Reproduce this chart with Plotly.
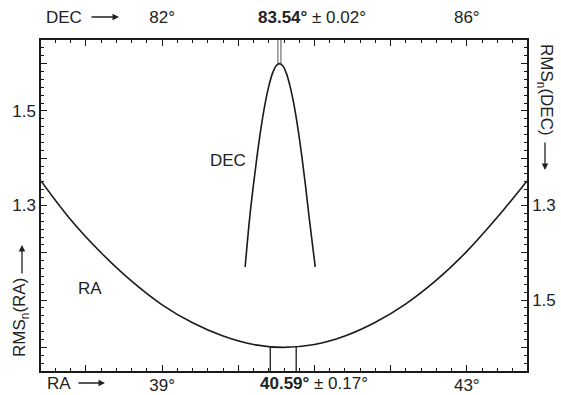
import numpy as np
import plotly.graph_objects as go

# ---- data ----
ra_deg = [37.41, 37.8, 38.2, 38.6, 39.0, 39.4, 39.8, 40.2, 40.59, 41.0, 41.4, 41.8, 42.2, 42.6, 43.0, 43.4, 43.79]
ra_rms = [1.352, 1.270, 1.200, 1.140, 1.090, 1.052, 1.024, 1.006, 1.000, 1.006, 1.024, 1.053, 1.092, 1.142, 1.203, 1.275, 1.352]

dec_deg = [83.09, 83.15, 83.20, 83.25, 83.30, 83.35, 83.40, 83.45, 83.50, 83.54,
           83.58, 83.63, 83.68, 83.73, 83.78, 83.83, 83.88, 83.93, 84.01]
dec_rms = [1.430, 1.325, 1.255, 1.191, 1.134, 1.086, 1.048, 1.020, 1.004, 1.000,
           1.004, 1.020, 1.048, 1.086, 1.134, 1.191, 1.255, 1.325, 1.430]

ra_best, ra_err = 40.59, 0.17
dec_best, dec_err = 83.54, 0.02

ra_range = [37.41, 43.79]
dec_range = [80.41, 86.79]
rms_range = [0.95, 1.65]

ra_ticks = [38, 39, 40, 41, 42, 43]
ra_ticklabels = ["", "39°", "", "", "", "43°"]
dec_ticks = [81, 82, 83, 84, 85, 86]
dec_ticklabels = ["", "82°", "", "", "", "86°"]
rms_ticks = [1.0, 1.1, 1.2, 1.3, 1.4, 1.5, 1.6]
rms_ticklabels = ["", "", "", "1.3", "", "1.5", ""]

FONT = "Liberation Sans, Arial, sans-serif"
FS = 17
BLACK = "#1a1a1a"
TXT = "#222222"
W, H = 561, 395
L, R, T, B = 41, 34, 40, 24
PW, PH = W - L - R, H - T - B


def px(xp):
    return (xp - L) / PW


def py(yp):
    return (H - B - yp) / PH


fig = go.Figure()

# RA curve
fig.add_trace(go.Scatter(x=ra_deg, y=ra_rms, mode="lines", line=dict(color=BLACK, width=1.6, shape="spline"),
                         xaxis="x", yaxis="y", showlegend=False, hoverinfo="skip"))
# DEC curve
fig.add_trace(go.Scatter(x=dec_deg, y=dec_rms, mode="lines", line=dict(color=BLACK, width=1.6, shape="spline"),
                         xaxis="x2", yaxis="y2", showlegend=False, hoverinfo="skip"))

# RA error bracket lines (from bottom up to the curve)
for xv in (ra_best - ra_err, ra_best + ra_err):
    yv = float(np.interp(xv, ra_deg, ra_rms))
    fig.add_trace(go.Scatter(x=[xv, xv], y=[rms_range[0], yv], mode="lines",
                             line=dict(color=BLACK, width=1.3), xaxis="x", yaxis="y",
                             showlegend=False, hoverinfo="skip"))
# DEC error bracket lines (from top down to the peak)
for xv in (dec_best - dec_err, dec_best + dec_err):
    yv = float(np.interp(xv, dec_deg, dec_rms))
    fig.add_trace(go.Scatter(x=[xv, xv], y=[rms_range[0], yv], mode="lines",
                             line=dict(color="#555555", width=1), xaxis="x2", yaxis="y2",
                             showlegend=False, hoverinfo="skip"))

axis_common = dict(showline=True, linecolor=BLACK, linewidth=1.5, ticks="inside",
                   tickcolor=BLACK, tickwidth=1.2, ticklen=6, showgrid=False, zeroline=False,
                   tickfont=dict(family=FONT, size=FS, color=TXT), tickmode="array",
                   automargin=False)


def minor(t0, dt):
    return dict(tickmode="linear", tick0=t0, dtick=dt, ticklen=3, ticks="inside",
                tickcolor=BLACK, tickwidth=1.2, showgrid=False)


fig.update_layout(
    width=W, height=H,
    margin=dict(l=L, r=R, t=T, b=B, autoexpand=False),
    paper_bgcolor="white", plot_bgcolor="white",
    xaxis=dict(range=ra_range, tickvals=ra_ticks, ticktext=ra_ticklabels, side="bottom",
               minor=minor(37.4, 0.2), ticklabelstandoff=-2, **axis_common),
    xaxis2=dict(range=dec_range, tickvals=dec_ticks, ticktext=dec_ticklabels, side="top",
                overlaying="x", anchor="y", minor=minor(80.4, 0.2), ticklabelstandoff=8,
                **axis_common),
    yaxis=dict(range=rms_range, tickvals=rms_ticks, ticktext=rms_ticklabels, side="left",
               minor=minor(0.95, 0.1 / 6), **axis_common),
    yaxis2=dict(range=rms_range[::-1], tickvals=rms_ticks, ticktext=rms_ticklabels, side="right",
                overlaying="y", anchor="x", minor=minor(0.95, 0.1 / 6), **axis_common),
)

ann_font = dict(family=FONT, size=FS, color=TXT)
anns = [
    dict(text="DEC", x=44, y=17, xanchor="left"),
    dict(text=f"<b>{dec_best:.2f}°</b> ± {dec_err:.2f}°", x=256, y=17, xanchor="left"),
    dict(text="RA", x=45, y=383, xanchor="left"),
    dict(text=f"<b>{ra_best:.2f}°</b> ± {ra_err:.2f}°", x=258, y=383, xanchor="left"),
    dict(text="DEC", x=228, y=160, xanchor="center"),
    dict(text="RA", x=90, y=288, xanchor="center"),
]
for a in anns:
    fig.add_annotation(text=a["text"], x=px(a["x"]), y=py(a["y"]), xref="paper", yref="paper",
                       xanchor=a["xanchor"], yanchor="middle", showarrow=False, font=ann_font)

# rotated axis titles
fig.add_annotation(text="RMS<sub>n</sub>(RA)", x=px(21), y=py(318), xref="paper", yref="paper",
                   textangle=-90, showarrow=False, font=ann_font, xanchor="center", yanchor="middle")
fig.add_annotation(text="RMS<sub>n</sub>(DEC)", x=px(545), y=py(90), xref="paper", yref="paper",
                   textangle=90, showarrow=False, font=ann_font, xanchor="center", yanchor="middle")

# direction arrows (head position, tail offset in px)
arrows = [
    (119, 17, -29, 0),   # DEC ->
    (105, 383, -28, 0),  # RA ->
    (22, 245, 0, 30),    # RMS(RA) up
    (545, 170, 0, -29),  # RMS(DEC) down
]
for hx, hy, ax, ay in arrows:
    fig.add_annotation(text="", x=px(hx), y=py(hy), xref="paper", yref="paper",
                       ax=ax, ay=ay, axref="pixel", ayref="pixel", showarrow=True,
                       arrowhead=2, arrowsize=1.0, arrowwidth=1.3, arrowcolor=TXT, standoff=0)

fig.write_html("out.html", config={"displayModeBar": False},
               post_script="document.body.style.margin='0';document.body.style.padding='0';")
